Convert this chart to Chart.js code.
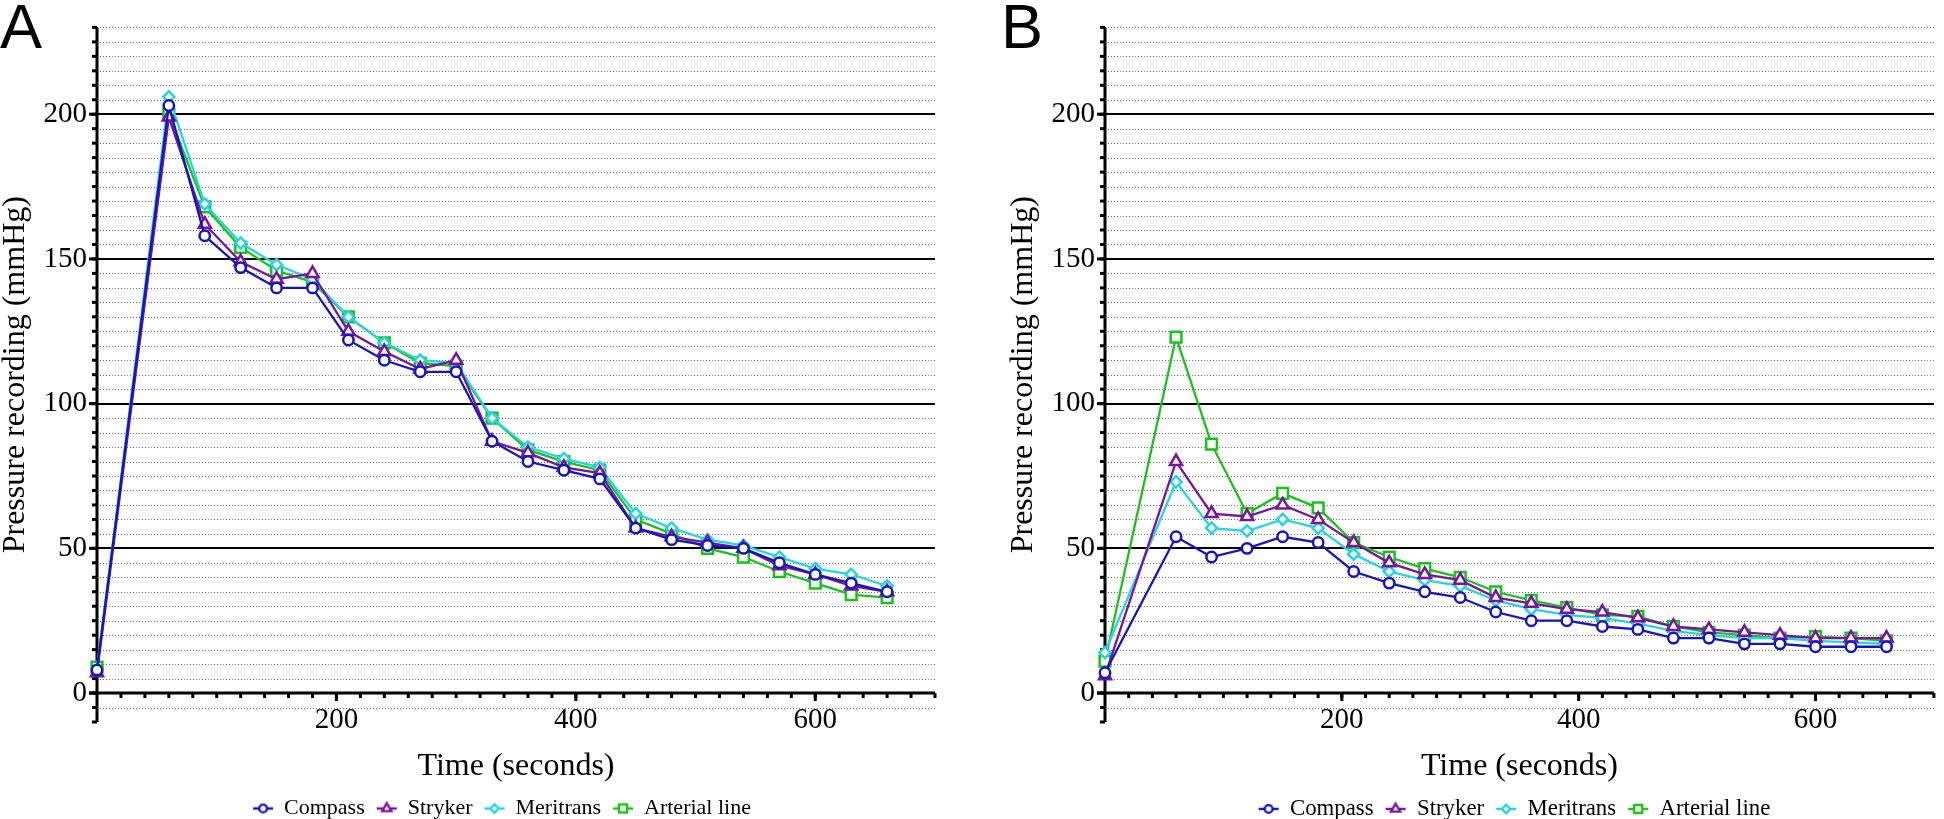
<!DOCTYPE html>
<html><head><meta charset="utf-8">
<script src="https://cdn.jsdelivr.net/npm/chart.js@4.4.0/dist/chart.umd.min.js"></script>
<style>
html,body{margin:0;padding:0;background:#fff;}
#wrap{position:relative;width:1944px;height:819px;overflow:hidden;background:#fff;}
canvas{position:absolute;top:0;}
</style></head><body>
<div id="wrap">
<canvas id="cA" width="972" height="819" style="left:0px"></canvas>
<canvas id="cB" width="972" height="819" style="left:972px"></canvas>
</div>
<script>
// ---------- data ----------
const times = [0,60,90,120,150,180,210,240,270,300,330,360,390,420,450,480,510,540,570,600,630,660];
const seriesNames = ['Compass','Stryker','Meritrans','Arterial line'];

const panelA_compass   = [8,203,158,147,140,140,122,115,111,111,87,80,77,74,57,53,51,50,45,41,38,35];
const panelA_stryker   = [7,199,162,149,143,145,125,118,112,115,87,83,78,76,57,54,52,50,44,41,37,35];
const panelA_meritrans = [8,206,169,155.5,148,143,130,121,115,114,95,85,81,78,62,57,53,51,47,43,41,37];
const panelA_arterial  = [9,200,168,154,146,142,130,121,114,113,95,84,80,77,60,55,50,47,42,38,34,33];

const panelB_compass   = [7,54,47,50,54,52,42,38,35,33,28,25,25,23,22,19,19,17,17,16,16,16];
const panelB_stryker   = [6,80,62,61,65,60,52,45,41,39,33,31,29,28,26,23,22,21,20,19,19,19];
const panelB_meritrans = [14,73,57,56,60,57,48,42,39,37,32,29,27,26,24,21.5,20,19,19,18,17.5,17];
const panelB_arterial  = [11,123,86,62,69,64,52,47,43,40,35,32,29.5,27,26.5,23,21,20,19,19.5,19,18];

const yTickLabels = [0,50,100,150,200];
const xTickLabels = [200,400,600];
const yMin = -10, yMax = 230, yMinorStep = 5;
const xMin = 0, xMax = 700, xMinorStep = 20;

// ---------- styles ----------
const colors = ['#1515c0','#7a149e','#25d5df','#1cc11c'];
const pointStyles = ['circle','triangle','rectRot','rect'];
const pointRadii = [5.2,7,5.6,7.6];
const serif = '"Liberation Serif","Times New Roman",serif';

function legendIcon(i){
  const c = document.createElement('canvas');
  c.width = 22; c.height = 16;
  const g = c.getContext('2d');
  g.strokeStyle = colors[i]; g.lineWidth = 2.4;
  g.beginPath(); g.moveTo(1,8); g.lineTo(21,8); g.stroke();
  g.fillStyle = '#fff';
  const r = pointRadii[i]*0.75, cx = 11, cy = 8;
  g.beginPath();
  if (pointStyles[i]==='circle'){ g.arc(cx,cy,r,0,Math.PI*2); }
  else if (pointStyles[i]==='triangle'){
    for (let k=0;k<3;k++){const a=k*2*Math.PI/3; const px=cx+Math.sin(a)*r, py=cy-Math.cos(a)*r; k?g.lineTo(px,py):g.moveTo(px,py);} g.closePath();
  } else if (pointStyles[i]==='rectRot'){
    g.moveTo(cx-r,cy); g.lineTo(cx,cy-r); g.lineTo(cx+r,cy); g.lineTo(cx,cy+r); g.closePath();
  } else { const s=r*Math.SQRT1_2; g.rect(cx-s,cy-s,2*s,2*s); }
  g.fill(); g.stroke();
  return c;
}
const icons = colors.map((_,i)=>legendIcon(i));

const axesDecor = {
  id: 'axesDecor',
  afterLayout(chart, args, opts) {
    const lg = chart.legend;
    if (lg && opts.legendShift) { lg.left += opts.legendShift; lg.right += opts.legendShift; }
  },
  beforeDatasetsDraw(chart) {
    const {ctx, scales: {x, y}} = chart;
    const L = x.getPixelForValue(xMin), R = x.getPixelForValue(xMax);
    const y0 = y.getPixelForValue(0);
    ctx.save();
    // dotted minor grid
    ctx.strokeStyle = '#707070'; ctx.lineWidth = 1; ctx.setLineDash([1,2]);
    for (let k = Math.round(yMin/yMinorStep)+1; k <= Math.round(yMax/yMinorStep); k++) {
      const v = k*yMinorStep;
      if (v % 50 === 0) continue;
      const py = Math.round(y.getPixelForValue(v)) + 0.5;
      ctx.beginPath(); ctx.moveTo(L, py); ctx.lineTo(R, py); ctx.stroke();
    }
    ctx.setLineDash([]);
    // solid major grid
    ctx.strokeStyle = '#000'; ctx.lineWidth = 2;
    for (const v of yTickLabels) {
      if (v === 0) continue;
      const py = Math.round(y.getPixelForValue(v));
      ctx.beginPath(); ctx.moveTo(L, py); ctx.lineTo(R, py); ctx.stroke();
    }
    // y ticks
    ctx.lineWidth = 3;
    for (let k = Math.round(yMin/yMinorStep); k <= Math.round(yMax/yMinorStep); k++) {
      const py = y.getPixelForValue(k*yMinorStep);
      ctx.beginPath(); ctx.moveTo(L-5, py); ctx.lineTo(L, py); ctx.stroke();
    }
    for (const v of yTickLabels) {
      const py = y.getPixelForValue(v);
      ctx.beginPath(); ctx.moveTo(L-8, py); ctx.lineTo(L, py); ctx.stroke();
    }
    // x ticks
    for (let k = 1; k <= Math.round(xMax/xMinorStep); k++) {
      const px = x.getPixelForValue(k*xMinorStep);
      ctx.beginPath(); ctx.moveTo(px, y0); ctx.lineTo(px, y0+5); ctx.stroke();
    }
    for (const v of xTickLabels) {
      const px = x.getPixelForValue(v);
      ctx.beginPath(); ctx.moveTo(px, y0); ctx.lineTo(px, y0+8); ctx.stroke();
    }
    // axis lines
    ctx.beginPath(); ctx.moveTo(L, y.getPixelForValue(yMax)); ctx.lineTo(L, y.getPixelForValue(yMin)); ctx.stroke();
    ctx.beginPath(); ctx.moveTo(L-8, y0); ctx.lineTo(R, y0); ctx.stroke();
    ctx.restore();
  },
  afterDraw(chart, args, opts) {
    const ctx = chart.ctx;
    ctx.save();
    ctx.fillStyle = '#000';
    ctx.font = '63px "Liberation Sans", Arial, sans-serif';
    ctx.textBaseline = 'alphabetic';
    ctx.fillText(opts.letter, opts.letterX, 48);
    ctx.restore();
  }
};

function makeChart(id, seriesData, padLeft, padRight, letter, letterX, legendFont, legendShift) {
  const datasets = seriesData.map((vals, i) => ({
    label: seriesNames[i],
    data: times.map((t, j) => ({x: t, y: vals[j]})),
    borderColor: colors[i],
    backgroundColor: '#ffffff',
    borderWidth: 2.3,
    pointStyle: pointStyles[i],
    pointRadius: pointRadii[i],
    pointBorderWidth: 2.5,
    pointBackgroundColor: '#ffffff',
    pointBorderColor: colors[i],
    tension: 0,
    clip: false
  }));
  return new Chart(document.getElementById(id), {
    type: 'line',
    data: {datasets},
    plugins: [axesDecor],
    options: {
      responsive: false,
      animation: false,
      devicePixelRatio: 1,
      layout: {padding: {left: padLeft, right: padRight, top: 21, bottom: 0}},
      scales: {
        x: {
          type: 'linear', min: xMin, max: xMax, position: 'bottom',
          afterBuildTicks: s => { s.ticks = xTickLabels.map(v => ({value: v})); },
          grid: {display: false, drawTicks: false},
          border: {display: false},
          ticks: {mirror: true, padding: -15.7, color: '#000', font: {family: serif, size: 29}, maxRotation: 0, autoSkip: false},
          title: {display: true, text: 'Time (seconds)', color: '#000', font: {family: serif, size: 32}, padding: {top: 56.5, bottom: 0}}
        },
        y: {
          type: 'linear', min: yMin, max: yMax,
          afterBuildTicks: s => { s.ticks = yTickLabels.map(v => ({value: v})); },
          afterFit: s => { s.width = 97; },
          grid: {display: false, drawTicks: false},
          border: {display: false},
          ticks: {padding: 10, color: '#000', font: {family: serif, size: 29}, autoSkip: false},
          title: {display: true, text: 'Pressure recording (mmHg)', color: '#000', font: {family: serif, size: 32, lineHeight: 1}, padding: 0}
        }
      },
      plugins: {
        axesDecor: {letter, letterX, legendShift},
        tooltip: {enabled: false},
        legend: {
          position: 'bottom', align: 'center', fullSize: false, maxHeight: 33.5,
          labels: {
            usePointStyle: true, pointStyleWidth: 20, padding: 12, color: '#000',
            font: {family: serif, size: legendFont},
            generateLabels: chart => chart.data.datasets.map((d, i) => ({
              text: d.label, pointStyle: icons[i], datasetIndex: i, hidden: false,
              fillStyle: '#fff', strokeStyle: colors[i], lineWidth: 0, fontColor: '#000'
            }))
          }
        }
      }
    }
  });
}

makeChart('cA', [panelA_compass, panelA_stryker, panelA_meritrans, panelA_arterial], 0, 37, 'A', 0, 22, -14);
makeChart('cB', [panelB_compass, panelB_stryker, panelB_meritrans, panelB_arterial], 36, 1, 'B', 29, 22.8, -5);
</script>
</body></html>
